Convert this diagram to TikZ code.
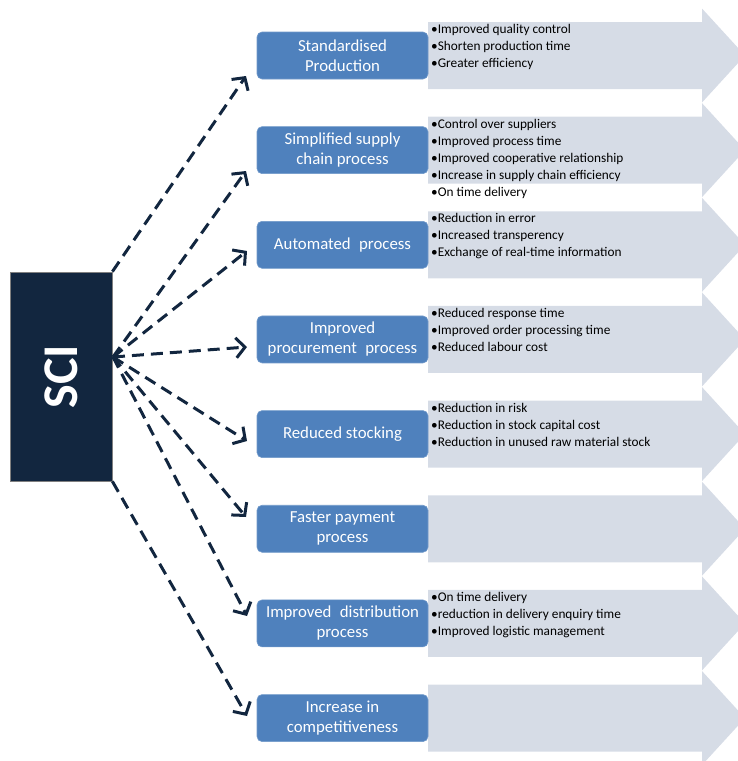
\documentclass[tikz,border=0pt]{standalone}
\usepackage{fontspec}
\setmainfont{Carlito}
\usetikzlibrary{arrows.meta}
\definecolor{navy}{HTML}{12263F}
\definecolor{boxblue}{HTML}{4F81BD}
\definecolor{lightarrow}{HTML}{D6DCE6}
\tikzset{
  bigarrow/.style={fill=lightarrow, draw=none},
  bluebox/.style={draw=boxblue!80!white, line width=0.6pt, fill=boxblue, rounded corners=5pt,
     minimum width=171pt, minimum height=47pt, inner sep=2pt, text=white, align=center,
     font=\fontsize{16.8}{20}\selectfont},
  listtext/.style={anchor=north west, inner sep=0pt, align=left, text=black,
     font=\fontsize{13.3}{17}\selectfont},
  dasharrow/.style={draw=navy, line width=3pt, dash pattern=on 12pt off 7pt,
     -{Straight Barb[length=9pt,width=20pt,line width=3pt]}},
}
\begin{document}
\begin{tikzpicture}[x=1pt,y=-1pt]
\useasboundingbox (0,0) rectangle (738,761);
% light arrows
\foreach \i in {1,...,8}{
  \pgfmathsetmacro{\cy}{55.5+(\i-1)*94.65}
  \fill[bigarrow] (428,\cy-33.5) -- (702,\cy-33.5) -- (702,\cy-47) -- (745,\cy) -- (702,\cy+47) -- (702,\cy+33.5) -- (428,\cy+33.5) -- cycle;
}
% SCI box
\node[draw=gray, line width=0.8pt, fill=navy, minimum width=102pt, minimum height=209pt, inner sep=0pt] (sci) at (61,376.5) {};
\node[rotate=90, text=white, font=\fontsize{50}{50}\selectfont\bfseries] (scitext) at (sci.center) {SCI};
% blue boxes
\node[bluebox] (b1) at (342.5,55.5) {Standardised\\Production};
\node[bluebox] (b2) at (342.5,150.15) {Simplified supply\\chain process};
\node[bluebox] (b3) at (342.5,244.8) {Automated\enspace process};
\node[bluebox] (b4) at (342.5,339.45) {Improved\\procurement\enspace process};
\node[bluebox] (b5) at (342.5,434.1) {Reduced stocking};
\node[bluebox] (b6) at (342.5,528.75) {Faster payment\\process};
\node[bluebox] (b7) at (342.5,623.4) {Improved\enspace distribution\\process};
\node[bluebox] (b8) at (342.5,718.05) {Increase in\\competitiveness};
% lists
\node[listtext] (l1) at (431,24) {•Improved quality control\\•Shorten production time\\•Greater efficiency};
\node[listtext] (l2) at (431,118.7) {•Control over suppliers\\•Improved process time\\•Improved cooperative relationship\\•Increase in supply chain efficiency\\•On time delivery};
\node[listtext] (l3) at (431,213.3) {•Reduction in error\\•Increased transperency\\•Exchange of real-time information};
\node[listtext] (l4) at (431,308) {•Reduced response time\\•Improved order processing time\\•Reduced labour cost};
\node[listtext] (l5) at (431,402.6) {•Reduction in risk\\•Reduction in stock capital cost\\•Reduction in unused raw material stock};
\node[listtext] (l7) at (431,591.9) {•On time delivery\\•reduction in delivery enquiry time\\•Improved logistic management};
% arrow tips
\coordinate (t1) at (246,76);
\coordinate (t2) at (246,171);
\coordinate (t3) at (247,251);
\coordinate (t4) at (247,347);
\coordinate (t5) at (247,441);
\coordinate (t6) at (246,517);
\coordinate (t7) at (247,616);
\coordinate (t8) at (247,716);
\coordinate (s0) at (113,357);
\draw[dasharrow] (sci.north east) -- (t1);
\draw[dasharrow] (s0) -- (t2);
\draw[dasharrow] (s0) -- (t3);
\draw[dasharrow] (s0) -- (t4);
\draw[dasharrow] (s0) -- (t5);
\draw[dasharrow] (s0) -- (t6);
\draw[dasharrow] (s0) -- (t7);
\draw[dasharrow] (sci.south east) -- (t8);
\end{tikzpicture}
\end{document}
